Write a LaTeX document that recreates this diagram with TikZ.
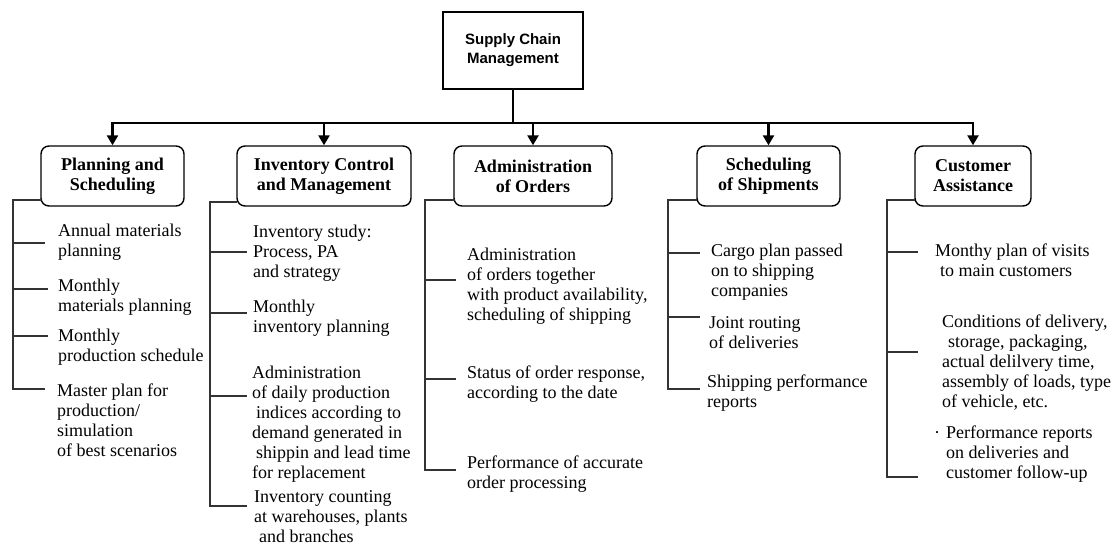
\documentclass[tikz,border=0pt]{standalone}
\usepackage{fontspec}
\setmainfont{Liberation Serif}
\newfontfamily\scmfont{Liberation Sans}
\usetikzlibrary{arrows.meta}
\tikzset{
  topbox/.style={draw,line width=1.4pt,minimum width=140pt,minimum height=77pt,align=center,
    font=\scmfont\bfseries\fontsize{15}{19}\selectfont},
  areabox/.style={draw,rounded corners=8pt,line width=1.4pt,minimum height=60pt,align=center,
    font=\bfseries\fontsize{18}{20}\selectfont},
  task/.style={anchor=west,inner sep=0pt,align=left,font=\fontsize{18}{20}\selectfont},
  bar/.style={line width=2.6pt},
  brk/.style={line width=1.3pt,draw=black!80},
  down/.style={-{Triangle[length=10pt,width=11pt]},line width=2.4pt}
}

\begin{document}
\begin{tikzpicture}[x=1pt,y=-1pt]
      \useasboundingbox (0,0) rectangle (1119,546);
      \node[topbox](SCM) at (513,50.5) {Supply Chain\\Management};
      \node[areabox,minimum width=143pt](PS) at (112.5,176) {Planning and\\Scheduling};
      \node[areabox,minimum width=174pt](IC) at (324,176) {Inventory Control\\and Management};
      \node[areabox,minimum width=158pt](AO) at (533,176) {Administration\\of Orders};
      \node[areabox,minimum width=143pt](SS) at (768.5,176) {Scheduling\\of Shipments};
      \node[areabox,minimum width=116pt](CA) at (973,176) {Customer\\Assistance};
      \coordinate (hub) at (SCM.south |- 0,123);
      \draw[bar] (SCM.south) -- (hub);
      \draw[bar,line cap=rect] (PS.north |- hub) -- (CA.north |- hub);
      \foreach \n in {PS,IC,AO,SS,CA}
            \path[down] (\n.north |- hub) edge (\n);
      % planning and scheduling
      \node[task](PS1) at (58,242) {Annual materials\\planning};
      \node[task](PS2) at (58,297) {Monthly\\materials planning};
      \node[task](PS3) at (58,347) {Monthly\\production schedule};
      \node[task](PS4) at (57,420) {Master plan for\\production/\\simulation\\of best scenarios};
      \draw[brk] (42,200) -- (13,200) -- (13,389) -- (45,389);
      \draw[brk] (13,243) -- (45,243);
      \draw[brk] (13,289) -- (48,289);
      \draw[brk] (13,336) -- (48,336);
      % inventory
      \node[task](IC1) at (253,253) {Inventory study:\\Process, PA\\and strategy};
      \node[task](IC2) at (253,318) {Monthly\\inventory planning};
      \node[task](IC3) at (252,424.5) {Administration\\of daily production\\\hspace*{4pt}indices according to\\demand generated in\\\hspace*{4pt}shippin and lead time\\for replacement};
      \node[task](IC4) at (254,517) {Inventory counting\\at warehouses, plants\\\hspace*{5pt}and branches};
      \draw[brk] (237,202) -- (210,202) -- (210,506) -- (247,506);
      \draw[brk] (210,252) -- (247,252);
      \draw[brk] (210,313) -- (247,313);
      \draw[brk] (210,396) -- (247,396);
      % orders
      \node[task](AO1) at (467,286) {Administration\\of orders together\\with product availability,\\scheduling of shipping};
      \node[task](AO2) at (467,384) {Status of order response,\\according to the date};
      \node[task](AO3) at (467,474) {Performance of accurate\\order processing};
      \draw[brk] (455,200) -- (425,200) -- (425,470) -- (456,470);
      \draw[brk] (425,280) -- (456,280);
      \draw[brk] (425,379) -- (456,379);
      % shipments
      \node[task](SS1) at (711,272) {Cargo plan passed\\on to shipping\\companies};
      \node[task](SS2) at (709,333) {Joint routing\\of deliveries};
      \node[task](SS3) at (707,393) {Shipping performance\\reports};
      \draw[brk] (697,200) -- (668,200) -- (668,389) -- (700,389);
      \draw[brk] (668,253) -- (700,253);
      \draw[brk] (668,317) -- (700,317);
      % customers
      \node[task](CA1) at (935,260) {Monthy plan of visits\\\hspace*{5pt}to main customers};
      \node[task](CA2) at (942,363) {Conditions of delivery,\\\hspace*{6pt}storage, packaging,\\actual delilvery time,\\assembly of loads, type\\of vehicle, etc.};
      \node[task](CA3) at (946,454) {\llap{·\hspace{6pt}}Performance reports\\on deliveries and\\customer follow-up};
      \draw[brk] (915,200) -- (887,200) -- (887,477) -- (918,477);
      \draw[brk] (887,252) -- (918,252);
      \draw[brk] (887,352) -- (918,352);
\end{tikzpicture}
\end{document}
